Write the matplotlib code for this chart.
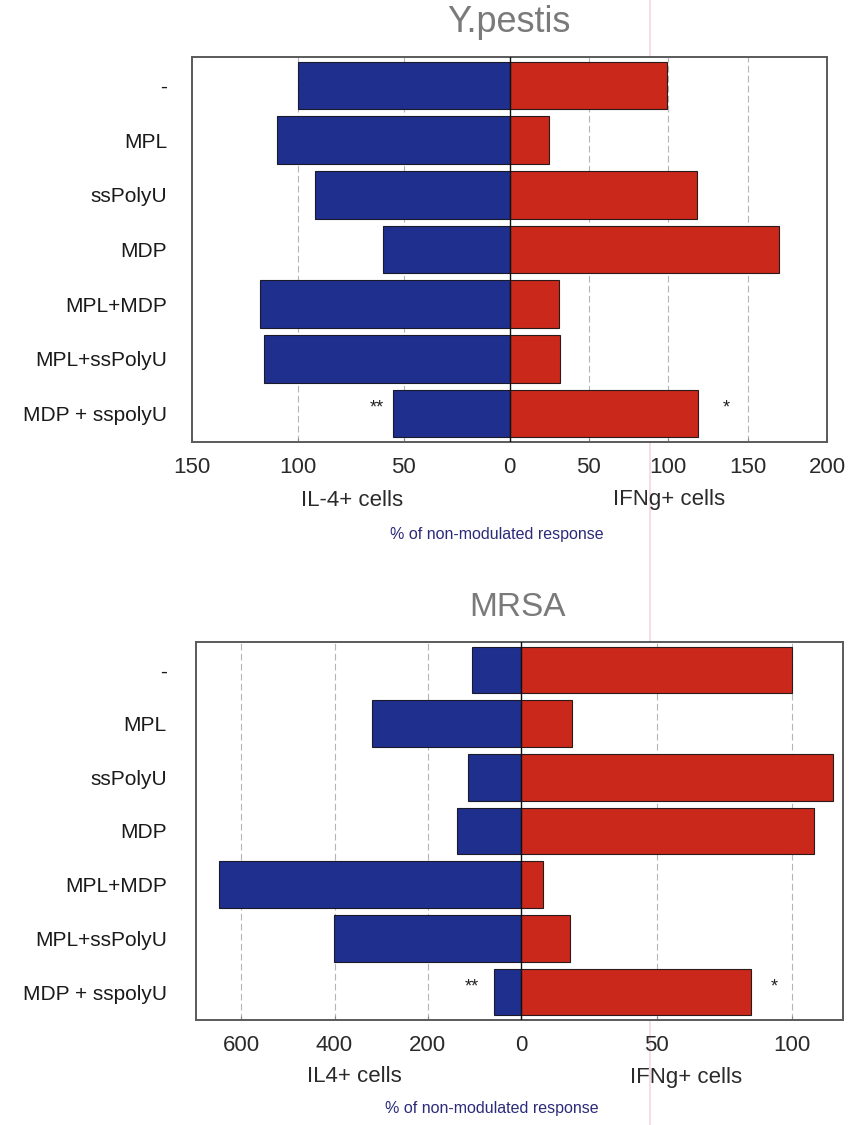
import matplotlib
matplotlib.use("Agg")
import matplotlib.pyplot as plt
from matplotlib.lines import Line2D

plt.rcParams['font.family'] = ['Liberation Sans', 'DejaVu Sans']

W, H = 849, 1125

categories = ['-', 'MPL', 'ssPolyU', 'MDP', 'MPL+MDP', 'MPL+ssPolyU', 'MDP + sspolyU']

# Y. pestis, % of non-modulated response
yp_il4 = [100, 110, 92, 60, 118, 116, 55]
yp_ifng = [99, 25, 118, 170, 31, 32, 119]

# MRSA, % of non-modulated response
mrsa_il4 = [105, 320, 113, 137, 648, 401, 58]
mrsa_ifng = [100, 19, 115, 108, 8, 18, 85]

yp_left_ticks = [150, 100, 50]
yp_right_ticks = [50, 100, 150, 200]
mrsa_left_ticks = [600, 400, 200]
mrsa_right_ticks = [50, 100]

BLUE = '#1f2f8e'
RED = '#c9281b'


def px_axes(fig, left, top, right, bottom):
    return fig.add_axes([left / W, 1 - bottom / H, (right - left) / W, (bottom - top) / H])


def butterfly(ax, il4, ifng, k, xlim, left_ticks, right_ticks, stars, label_pad):
    """Left half shows IL-4 (scaled by k into right-hand units), right half IFNg."""
    y = list(range(len(categories)))
    ax.barh(y, [-v * k for v in il4], height=0.87, color=BLUE,
            edgecolor='#1a1a2a', linewidth=0.8, zorder=3)
    ax.barh(y, ifng, height=0.87, color=RED,
            edgecolor='#2a1a1a', linewidth=0.8, zorder=3)
    ax.set_xlim(*xlim)
    ax.set_ylim(len(categories) - 0.48, -0.52)

    pos = [-t * k for t in left_ticks] + [0] + right_ticks
    labels = [str(t) for t in left_ticks] + ['0'] + [str(t) for t in right_ticks]
    ax.set_xticks(pos)
    ax.set_xticklabels(labels)
    for p in pos:
        if p != 0 and xlim[0] < p < xlim[1] - 1:
            ax.axvline(p, color='#b5b5b5', lw=0.8, dashes=(6, 3), zorder=1)
    ax.axvline(0, color='#111111', lw=1.0, zorder=4)

    ax.set_yticks(y)
    ax.set_yticklabels(categories, fontsize=15, color='#1a1a1a')
    ax.tick_params(axis='y', length=0, pad=label_pad)
    ax.tick_params(axis='x', direction='in', length=3, width=0.8, color='#888888',
                   labelsize=16, labelcolor='#2a2a2a', pad=11)
    for s in ax.spines.values():
        s.set_color('#5a5a5a')
        s.set_linewidth(1.4)

    last = len(categories) - 1
    ax.text(-il4[last] * k - stars[0], last - 0.1, '**', ha='right', va='center',
            fontsize=13, color='#222222')
    ax.text(ifng[last] + stars[1], last - 0.1, '*', ha='left', va='center',
            fontsize=13, color='#222222')


fig = plt.figure(figsize=(W / 100, H / 100), dpi=100)

# Y. pestis panel
ax1 = px_axes(fig, 192, 57, 827, 442)
butterfly(ax1, yp_il4, yp_ifng, 4 / 3, (-200, 200), yp_left_ticks, yp_right_ticks, (6, 15), 18)
fig.text(509 / W, 1 - 22 / H, 'Y.pestis', ha='center', va='center', fontsize=26, color='#7a7a7a')
fig.text(352 / W, 1 - 500 / H, 'IL-4+ cells', ha='center', va='center', fontsize=16, color='#2a2a2a')
fig.text(669 / W, 1 - 500 / H, 'IFNg+ cells', ha='center', va='center', fontsize=16, color='#2a2a2a')
fig.text(497 / W, 1 - 535 / H, '% of non-modulated response', ha='center', va='center',
         fontsize=11.5, color='#2b2b7a')

# MRSA panel
ax2 = px_axes(fig, 196, 642, 843, 1020)
butterfly(ax2, mrsa_il4, mrsa_ifng, 0.172, (-119.9, 118.8), mrsa_left_ticks, mrsa_right_ticks, (5.5, 7), 21)
fig.text(518 / W, 1 - 608 / H, 'MRSA', ha='center', va='center', fontsize=24, color='#7a7a7a')
fig.text(354 / W, 1 - 1077 / H, 'IL4+ cells', ha='center', va='center', fontsize=16, color='#2a2a2a')
fig.text(686 / W, 1 - 1077 / H, 'IFNg+ cells', ha='center', va='center', fontsize=16, color='#2a2a2a')
fig.text(492 / W, 1 - 1108 / H, '% of non-modulated response', ha='center', va='center',
         fontsize=11.5, color='#2b2b7a')

# faint vertical streak running through the page
fig.add_artist(Line2D([650 / W, 650 / W], [0, 1], transform=fig.transFigure,
                      color='#f2d8e6', lw=1.2, zorder=0))

fig.savefig('out.png', dpi=100)
